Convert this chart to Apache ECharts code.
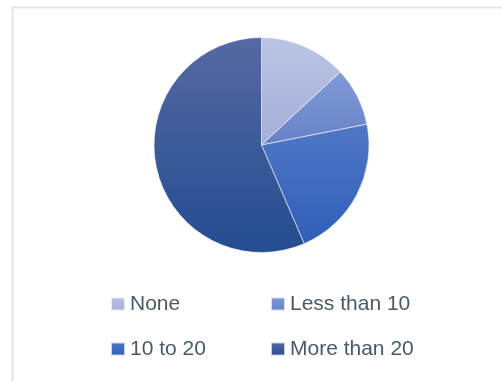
<!DOCTYPE html>
<html>
<head>
<meta charset="utf-8">
<script src="https://cdn.jsdelivr.net/npm/echarts@6/dist/echarts.min.js"></script>
<style>
  html, body { margin: 0; padding: 0; background: #fff; }
  #chart { width: 502px; height: 381px; }
</style>
</head>
<body>
<div id="chart"></div>
<script>
// Share of respondents by group
const categories = ['None', 'Less than 10', '10 to 20', 'More than 20'];
const shares = [13.1, 8.8, 21.6, 56.5];

// Top and bottom shade of each slice's vertical gradient
const shadeTop = ['#bac4e4', '#809ad7', '#5077c6', '#5669a2'];
const shadeBottom = ['#a4afd8', '#6783c6', '#2f5fb8', '#244c91'];

function gradient(i) {
  return new echarts.graphic.LinearGradient(0, 0, 0, 1, [
    { offset: 0, color: shadeTop[i] },
    { offset: 1, color: shadeBottom[i] }
  ]);
}

const pieData = categories.map((name, i) => ({
  name: name,
  value: shares[i],
  itemStyle: { color: gradient(i) }
}));

const legendText = {
  fontFamily: 'Liberation Sans, Arial, sans-serif',
  fontSize: 21,
  lineHeight: 22,
  color: '#4b586b'
};

function columnLegend(names, left) {
  return {
    data: names,
    orient: 'vertical',
    left: left,
    top: 288,
    itemWidth: 14,
    itemHeight: 13,
    itemGap: 23,
    icon: 'rect',
    textStyle: legendText
  };
}

const chart = echarts.init(document.getElementById('chart'), null, { renderer: 'canvas' });
chart.setOption({
  animation: false,
  backgroundColor: '#ffffff',
  graphic: [{
    type: 'rect',
    shape: { x: 12.5, y: 7.5, width: 520, height: 400 },
    style: { fill: 'none', stroke: '#e1e5ea', lineWidth: 2 },
    silent: true
  }],
  legend: [
    columnLegend([categories[0], categories[2]], 105),
    columnLegend([categories[1], categories[3]], 265)
  ],
  series: [{
    type: 'pie',
    center: [261.5, 145],
    radius: [0, 107.5],
    startAngle: 90,
    clockwise: true,
    label: { show: false },
    labelLine: { show: false },
    emphasis: { disabled: true },
    itemStyle: { borderColor: 'rgba(255,255,255,0.7)', borderWidth: 0.8 },
    data: pieData
  }]
});
</script>
</body>
</html>
